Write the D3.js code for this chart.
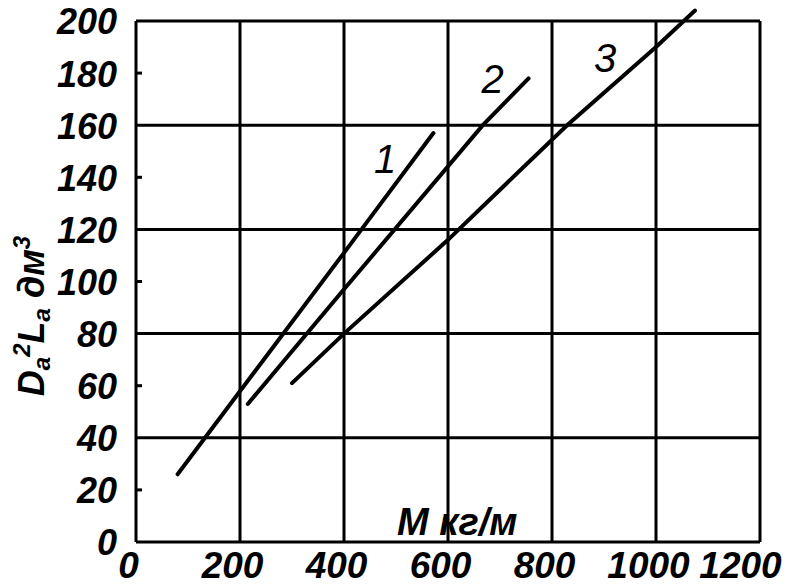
<!DOCTYPE html>
<html><head><meta charset="utf-8">
<script src="https://cdn.jsdelivr.net/npm/d3@7"></script>
<style>
html,body{margin:0;padding:0;background:#fff;}
svg{display:block;}
text{font-family:"Liberation Sans",Arial,sans-serif;font-weight:bold;font-style:italic;fill:#000;}
</style></head>
<body>
<script>
// Data
const xTicks = [0, 200, 400, 600, 800, 1000, 1200];
const yTicks = [0, 20, 40, 60, 80, 100, 120, 140, 160, 180, 200];
const yGrid = [0, 40, 80, 120, 160, 200];
const curveNames = ["1", "2", "3"];
const curve1 = [[80, 26], [400, 111], [572, 157]];
const curve2 = [[215, 53], [400, 97], [667, 160], [755, 178]];
const curve3 = [[300, 61], [400, 80], [600, 116], [829, 160], [1000, 190], [1075, 204]];
const labelPos = [[479, 147], [686, 178], [902, 186]];
const xLabel = "M кг/м";

const W = 792, H = 588;
const m = {left: 136, top: 21, right: 32, bottom: 46};
const iw = W - m.left - m.right, ih = H - m.top - m.bottom;

const svg = d3.select("body").append("svg").attr("width", W).attr("height", H);
svg.append("rect").attr("width", W).attr("height", H).attr("fill", "#fff");
const g = svg.append("g").attr("transform", `translate(${m.left},${m.top})`);

const x = d3.scaleLinear().domain([0, 1200]).range([0, iw]);
const y = d3.scaleLinear().domain([0, 200]).range([ih, 0]);

// grid
g.selectAll(".vg").data(xTicks).join("line")
  .attr("x1", d => x(d)).attr("x2", d => x(d)).attr("y1", 0).attr("y2", ih)
  .attr("stroke", "#000").attr("stroke-width", 3);
g.selectAll(".hg").data(yGrid).join("line")
  .attr("x1", 0).attr("x2", iw).attr("y1", d => y(d)).attr("y2", d => y(d))
  .attr("stroke", "#000").attr("stroke-width", 3);
// minor inward ticks on left axis
g.selectAll(".mt").data(yTicks.filter(d => !yGrid.includes(d))).join("line")
  .attr("x1", 0).attr("x2", 6).attr("y1", d => y(d)).attr("y2", d => y(d))
  .attr("stroke", "#000").attr("stroke-width", 3);

// y tick labels
const yAxis = d3.axisLeft(y).tickValues(yTicks).tickSize(0).tickPadding(19).tickFormat(d3.format("d"));
const ya = g.append("g").call(yAxis);
ya.select(".domain").remove();
ya.selectAll("text").attr("font-size", 36).attr("dy", "0.36em").attr("fill", "#000");

// x tick labels
const xAxis = d3.axisBottom(x).tickValues(xTicks).tickSize(0).tickPadding(0).tickFormat(d3.format("d"));
const xa = g.append("g").attr("transform", `translate(0,${ih})`).call(xAxis);
xa.select(".domain").remove();
xa.selectAll("text").attr("font-size", 37).attr("dy", 0).attr("y", 36)
  .attr("dx", d => d === 1200 ? -20 : -8).attr("fill", "#000");

// curves
const line = d3.line().x(d => x(d[0])).y(d => y(d[1]));
[curve1, curve2, curve3].forEach(c => {
  g.append("path").attr("d", line(c)).attr("fill", "none")
    .attr("stroke", "#000").attr("stroke-width", 4).attr("stroke-linecap", "round");
});
g.selectAll(".cl").data(curveNames).join("text")
  .attr("x", (d, i) => x(labelPos[i][0])).attr("y", (d, i) => y(labelPos[i][1]))
  .attr("text-anchor", "middle").attr("dy", "0.36em")
  .attr("font-size", 40).style("font-weight", "normal").text(d => d);

// x axis title
g.append("text").attr("x", 397 - m.left).attr("y", 535 - m.top)
  .attr("font-size", 38).text(xLabel);

// y axis title
const yt = svg.append("text").attr("transform", "translate(44,316) rotate(-90)")
  .attr("text-anchor", "middle").attr("font-size", 36);
yt.append("tspan").text("D");
yt.append("tspan").attr("font-size", 24).attr("dy", 6).text("a");
yt.append("tspan").attr("font-size", 24).attr("dy", -20).text("2");
yt.append("tspan").attr("dy", 14).text("L");
yt.append("tspan").attr("font-size", 24).attr("dy", 6).text("a");
yt.append("tspan").attr("dy", -6).text(" дм");
yt.append("tspan").attr("font-size", 24).attr("dy", -14).text("3");
</script>
</body></html>
